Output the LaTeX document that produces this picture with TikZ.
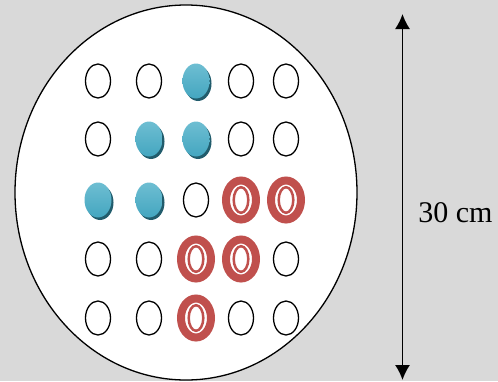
\documentclass[tikz,border=0pt]{standalone}
\usepackage{fontspec}
\setmainfont{Liberation Serif}
\usetikzlibrary{arrows.meta,shadows,shapes.geometric}

\definecolor{bggray}{RGB}{217,217,217}
\definecolor{tealmid}{RGB}{68,166,192}
\definecolor{teallight}{RGB}{110,190,210}
\definecolor{tealdark}{RGB}{33,92,108}
\definecolor{ringred}{RGB}{192,80,77}

\begin{document}
\begin{tikzpicture}[
                            x=1pt,
                            y=-1pt,
                            semithick
                        ]

                        \tikzstyle{cell}=[ellipse,inner sep=0pt]
                        \tikzstyle{cell o}=[cell,draw=black,line width=1.3pt,fill=white,
                                            minimum width=25pt,minimum height=34pt]
                        \tikzstyle{cell t}=[cell,minimum width=27pt,minimum height=35pt,
                                            top color=teallight,middle color=tealmid,bottom color=tealmid,
                                            drop shadow={fill=tealdark,opacity=1,shadow xshift=2pt,shadow yshift=-2.5pt}]
                        \tikzstyle{cell r}=[cell,draw=ringred,line width=8pt,fill=white,
                                            minimum width=30pt,minimum height=39pt,
                                            path picture={\draw[ringred,line width=2.5pt]
                                                (path picture bounding box.center) ellipse (7.3pt and 12.8pt);}]

                        % background and dish
                        \fill[bggray] (0,0) rectangle (498,381);
                        \useasboundingbox (0,0) rectangle (498,381);
                        \node[ellipse,draw=black,line width=1.3pt,fill=white,
                              minimum width=342pt,minimum height=375pt] (dish) at (186,192.5) {};

                        % grid of wells
                        \def\colx{{98,149,196,241,286}}
                        \def\rowy{{81,139,200,259,318}}
                        \foreach \kinds [count=\r] in {{o,o,t,o,o},{o,t,t,o,o},{t,t,o,r,r},{o,o,r,r,o},{o,o,r,o,o}}
                        {
                            \foreach \k [count=\c] in \kinds
                            {
                                \pgfmathsetmacro\xx{\colx[\c-1]}
                                \pgfmathsetmacro\yy{\rowy[\r-1]}
                                \node[cell \k] (w-\r-\c) at (\xx,\yy) {};
                            }
                        }

                        % scale bar
                        \coordinate (top) at (402.5,14);
                        \coordinate (bot) at (402.5,380);
                        \draw[{Latex[length=15pt,width=15pt]}-{Latex[length=15pt,width=15pt]},line width=1.5pt] (top) -- (bot);
                        \node[anchor=west,font=\fontsize{30}{32}\selectfont,inner sep=0pt] (size) at (418,213) {30 cm};
                    \end{tikzpicture}
\end{document}
